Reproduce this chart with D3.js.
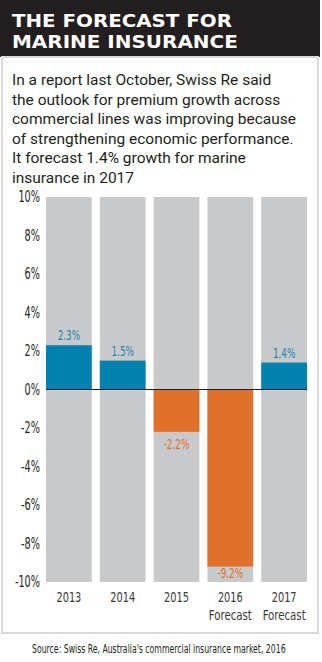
<!DOCTYPE html>
<html>
<head>
<meta charset="utf-8">
<script src="https://cdn.jsdelivr.net/npm/d3@7"></script>
<style>
  html, body { margin: 0; padding: 0; background: #fff; }
  svg { display: block; }
</style>
</head>
<body>
<div id="chart"></div>
<script>
// chart data
const years = ['2013', '2014', '2015', '2016', '2017'];
const subLabels = ['', '', '', 'Forecast', 'Forecast'];
const growth = [2.3, 1.5, -2.2, -9.2, 1.4];
const yTicks = [10, 8, 6, 4, 2, 0, -2, -4, -6, -8, -10];

const titleLines = ['THE FORECAST FOR', 'MARINE INSURANCE'];
const introLines = [
  'In a report last October, Swiss Re said',
  'the outlook for premium growth across',
  'commercial lines was improving because',
  'of strengthening economic performance.',
  'It forecast 1.4% growth for marine',
  'insurance in 2017'
];
const sourceText = "Source: Swiss Re, Australia's commercial insurance market, 2016";

const W = 322, H = 662;
const narrow = '"DejaVu Sans Condensed", "DejaVu Sans", sans-serif';

// squash text horizontally (the original uses a very narrow face)
function squeeze(sel, sx) {
  sel.each(function() {
    const t = d3.select(this);
    const tx = +t.attr('x') || 0, ty = +t.attr('y') || 0;
    t.attr('x', 0).attr('y', 0)
      .attr('transform', `translate(${tx},${ty}) scale(${sx},1)`);
  });
}

const svg = d3.select('#chart').append('svg')
  .attr('width', W)
  .attr('height', H);

// header block
svg.append('rect')
  .attr('x', 0).attr('y', 0)
  .attr('width', 320).attr('height', 57)
  .attr('fill', '#231f20');

svg.selectAll('.title')
  .data(titleLines)
  .enter()
  .append('text')
  .attr('class', 'title')
  .attr('x', 12)
  .attr('y', (d, i) => 27 + i * 21)
  .attr('font-family', narrow)
  .attr('font-weight', 'bold')
  .attr('font-size', 18)
  .attr('fill', '#fff')
  .text(d => d)
  .call(sel => sel.each(function(d, i) {
    const len = this.getComputedTextLength();
    squeeze(d3.select(this), (i === 0 ? 220 : 226) / len);
  }));

// panel border
svg.append('rect')
  .attr('x', 2).attr('y', 57)
  .attr('width', 316).attr('height', 576)
  .attr('fill', 'none')
  .attr('stroke', '#d9d9d9')
  .attr('stroke-width', 2);

svg.selectAll('.intro')
  .data(introLines)
  .enter()
  .append('text')
  .attr('class', 'intro')
  .attr('x', 12)
  .attr('y', (d, i) => 85 + i * 19.6)
  .attr('font-family', 'Roboto, "Open Sans", sans-serif')
  .attr('font-size', 15.5)
  .attr('fill', '#231f20')
  .text(d => d);

// scales
const x = d3.scaleBand()
  .domain(years)
  .range([46, 307])
  .paddingInner(0.15)
  .paddingOuter(0);

const y = d3.scaleLinear()
  .domain([-10, 10])
  .range([582, 197]);

// y axis labels
const yAxis = d3.axisLeft(y)
  .tickValues(yTicks)
  .tickSize(0)
  .tickPadding(0)
  .tickFormat(d => d + '%');

svg.append('g')
  .attr('transform', 'translate(40,0)')
  .call(yAxis)
  .call(g => g.select('.domain').remove())
  .call(g => g.selectAll('text')
    .attr('font-family', narrow)
    .attr('font-size', 15)
    .attr('fill', '#231f20')
    .attr('transform', 'scale(0.72,1)'));

// background bars
svg.selectAll('.bg')
  .data(years)
  .enter()
  .append('rect')
  .attr('class', 'bg')
  .attr('x', d => x(d))
  .attr('y', y(10))
  .attr('width', x.bandwidth())
  .attr('height', y(-10) - y(10))
  .attr('fill', '#c8c9cb');

// value bars
svg.selectAll('.bar')
  .data(growth)
  .enter()
  .append('rect')
  .attr('class', 'bar')
  .attr('x', (d, i) => x(years[i]))
  .attr('y', d => y(Math.max(0, d)))
  .attr('width', x.bandwidth())
  .attr('height', d => Math.abs(y(d) - y(0)))
  .attr('fill', d => d >= 0 ? '#0081ae' : '#e0712c');

// zero line
svg.append('line')
  .attr('x1', x.range()[0]).attr('x2', x.range()[1])
  .attr('y1', y(0)).attr('y2', y(0))
  .attr('stroke', '#231f20')
  .attr('stroke-width', 1);

// value labels
svg.selectAll('.val')
  .data(growth)
  .enter()
  .append('text')
  .attr('class', 'val')
  .attr('x', (d, i) => x(years[i]) + x.bandwidth() / 2)
  .attr('y', d => d >= 0 ? y(d) - 5 : Math.min(y(d) + 17, y(-10) - 4))
  .attr('text-anchor', 'middle')
  .attr('font-family', narrow)
  .attr('font-size', 14.5)
  .attr('fill', d => d >= 0 ? '#1a87b3' : '#e0712c')
  .text(d => d + '%')
  .call(squeeze, 0.68);

// category labels
svg.selectAll('.year')
  .data(years)
  .enter()
  .append('text')
  .attr('class', 'year')
  .attr('x', d => x(d) + x.bandwidth() / 2)
  .attr('y', 602)
  .attr('text-anchor', 'middle')
  .attr('font-family', narrow)
  .attr('font-size', 14.5)
  .attr('fill', '#3a3a3a')
  .text(d => d)
  .call(squeeze, 0.75);

svg.selectAll('.sub')
  .data(subLabels)
  .enter()
  .append('text')
  .attr('class', 'sub')
  .attr('x', (d, i) => x(years[i]) + x.bandwidth() / 2)
  .attr('y', 620)
  .attr('text-anchor', 'middle')
  .attr('font-family', narrow)
  .attr('font-size', 14.5)
  .attr('fill', '#3a3a3a')
  .text(d => d)
  .call(squeeze, 0.78);

// source line
svg.append('text')
  .attr('x', 32)
  .attr('y', 653)
  .attr('font-family', narrow)
  .attr('font-size', 12)
  .attr('fill', '#231f20')
  .text(sourceText)
  .call(sel => squeeze(sel, 254 / sel.node().getComputedTextLength()));
</script>
</body>
</html>
